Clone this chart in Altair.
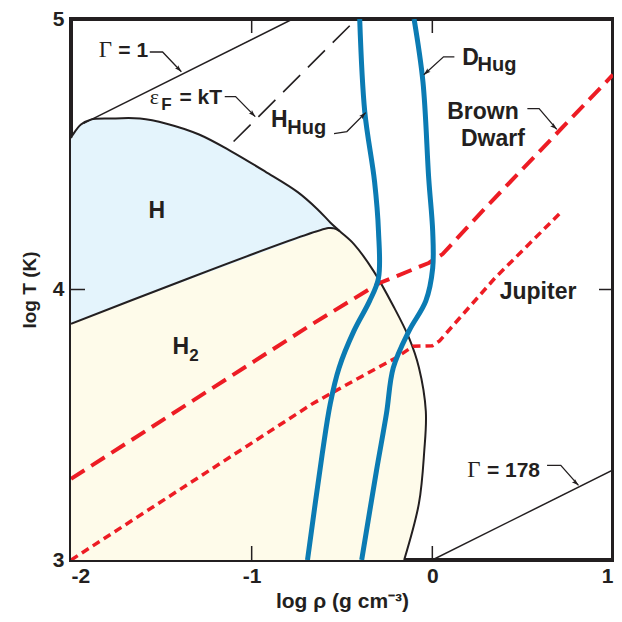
import altair as alt
import pandas as pd

# ---------------- data (log rho, log T) ----------------
# outer boundary of the H / H2 region
outer_x = [-2.0, -1.989, -1.945, -1.891, -1.782, -1.618, -1.471, -1.291, -1.111, -0.925,
           -0.745, -0.636, -0.565, -0.515, -0.434, -0.325, -0.216, -0.129, -0.074, -0.036,
           -0.045, -0.074, -0.156]
outer_y = [4.56, 4.573, 4.610, 4.628, 4.632, 4.632, 4.613, 4.573, 4.510, 4.436,
           4.360, 4.297, 4.248, 4.217, 4.168, 4.068, 3.939, 3.821, 3.711, 3.55,
           3.40, 3.210, 3.0]
JUNCTION = 13  # index where H/H2 line meets outer curve

# H / H2 dividing line
hh2_x = [-2.0, -0.575, -0.545, -0.515]
hh2_y = [3.873, 4.227, 4.226, 4.217]

# Hugoniots
hhug_x = [-0.402, -0.374, -0.320, -0.298, -0.298, -0.347, -0.434, -0.516, -0.565, -0.609, -0.691]
hhug_y = [5.0, 4.657, 4.400, 4.215, 4.042, 3.958, 3.847, 3.711, 3.578, 3.394, 3.0]
dhug_x = [-0.101, -0.052, -0.020, 0.002, 0.002, -0.036, -0.129, -0.216, -0.254, -0.309, -0.391]
dhug_y = [5.0, 4.768, 4.411, 4.215, 4.079, 3.958, 3.847, 3.711, 3.541, 3.331, 3.0]

# planet / brown dwarf adiabats
bd_x = [-2.0, -0.663, -0.292, -0.020, 0.057, 0.291, 1.0]
bd_y = [3.30, 3.873, 4.024, 4.098, 4.131, 4.300, 4.794]
jup_x = [-2.0, -0.663, -0.434, -0.200, -0.107, 0.0, 0.04, 0.128, 0.346, 0.717]
jup_y = [3.0, 3.578, 3.663, 3.748, 3.790, 3.792, 3.81, 3.877, 4.042, 4.289]

# reference lines
g1_x = [-1.93, -0.773]
g1_y = [4.614, 5.0]
g178_x = [0.0, 1.0]
g178_y = [3.0, 3.333]
ef_x = [-1.10, -0.42]
ef_y = [4.547, 5.0]

x_ticks = [-2, -1, 0, 1]
y_ticks = [3, 4, 5]

INK = "#231f20"
RED = "#ed1c24"
BLUE = "#0b7bb3"
FILL_H = "#e4f4fc"
FILL_H2 = "#fefbea"


def frame(xs, ys, **extra):
    d = pd.DataFrame({"x": xs, "y": ys})
    d["i"] = range(len(d))
    for k, v in extra.items():
        d[k] = v
    return d


X = alt.X("x:Q", scale=alt.Scale(domain=[-2, 1], nice=False, zero=False),
          axis=alt.Axis(values=x_ticks, title="log ρ (g cm⁻³)", ticks=False, domain=False, grid=False,
                        labelExpr="replace(format(datum.value, 'd'), '−', '-')",
                        labelFont="Liberation Sans", labelFontWeight="bold", labelFontSize=21,
                        labelColor=INK, labelPadding=5,
                        titleFont="Liberation Sans", titleFontWeight="bold", titleFontSize=21,
                        titleColor=INK, titlePadding=4))
Y = alt.Y("y:Q", scale=alt.Scale(domain=[3, 5], nice=False, zero=False),
          axis=alt.Axis(values=y_ticks, title="log T (K)", ticks=False, domain=False, grid=False,
                        labelExpr="format(datum.value, 'd')",
                        labelFont="Liberation Sans", labelFontWeight="bold", labelFontSize=21,
                        labelColor=INK, labelPadding=7,
                        titleFont="Liberation Sans", titleFontWeight="bold", titleFontSize=19,
                        titleColor=INK, titlePadding=13))
O = alt.Order("i:Q")

# filled regions
h_poly = frame([-2.0] + outer_x[:JUNCTION + 1] + hh2_x[::-1][1:],
               [3.873] + outer_y[:JUNCTION + 1] + hh2_y[::-1][1:])
h2_poly = frame([-2.0] + hh2_x + outer_x[JUNCTION + 1:],
                [3.0] + hh2_y + outer_y[JUNCTION + 1:])

fill_h = alt.Chart(h_poly).mark_line(fill=FILL_H, strokeWidth=0, clip=True).encode(x=X, y=Y, order=O)
fill_h2 = alt.Chart(h2_poly).mark_line(fill=FILL_H2, strokeWidth=0, clip=True).encode(x=X, y=Y, order=O)

outer = alt.Chart(frame(outer_x, outer_y)).mark_line(
    color=INK, strokeWidth=2, interpolate="catmull-rom", clip=True).encode(x=X, y=Y, order=O)
hh2 = alt.Chart(frame(hh2_x, hh2_y)).mark_line(
    color=INK, strokeWidth=2, interpolate="catmull-rom", clip=True).encode(x=X, y=Y, order=O)

g1 = alt.Chart(frame(g1_x, g1_y)).mark_line(color=INK, strokeWidth=1.5, clip=True).encode(x=X, y=Y, order=O)
g178 = alt.Chart(frame(g178_x, g178_y)).mark_line(color=INK, strokeWidth=1.5, clip=True).encode(x=X, y=Y, order=O)
ef = alt.Chart(frame(ef_x, ef_y)).mark_line(color=INK, strokeWidth=1.6, strokeDash=[24, 11],
                                            clip=True).encode(x=X, y=Y, order=O)

bd = alt.Chart(frame(bd_x, bd_y)).mark_line(color=RED, strokeWidth=4, strokeDash=[16, 8],
                                            clip=True).encode(x=X, y=Y, order=O)
jup = alt.Chart(frame(jup_x, jup_y)).mark_line(color=RED, strokeWidth=3.5, strokeDash=[8, 5],
                                               clip=True).encode(x=X, y=Y, order=O)

hhug = alt.Chart(frame(hhug_x, hhug_y)).mark_line(
    color=BLUE, strokeWidth=5, interpolate="catmull-rom", clip=True).encode(x=X, y=Y, order=O)
dhug = alt.Chart(frame(dhug_x, dhug_y)).mark_line(
    color=BLUE, strokeWidth=5, interpolate="catmull-rom", clip=True).encode(x=X, y=Y, order=O)

# inward ticks drawn as short rules
W, H = 542, 541
TL = 14
xt = pd.DataFrame({"x": [-1, 0]})
yt = pd.DataFrame({"y": [4]})
tick_bottom = alt.Chart(xt).mark_rule(color=INK, strokeWidth=1.5).encode(
    x=X, y=alt.value(H), y2=alt.value(H - TL))
tick_top = alt.Chart(xt).mark_rule(color=INK, strokeWidth=1.5).encode(
    x=X, y=alt.value(0), y2=alt.value(TL))
tick_left = alt.Chart(yt).mark_rule(color=INK, strokeWidth=1.5).encode(
    y=Y, x=alt.value(0), x2=alt.value(TL))
tick_right = alt.Chart(yt).mark_rule(color=INK, strokeWidth=1.5).encode(
    y=Y, x=alt.value(W), x2=alt.value(W - TL))

# leaders (label -> curve) with arrow heads
lead_group = ["g1"] * 3 + ["ef"] * 3 + ["hh"] * 3 + ["dh"] * 3 + ["bd"] * 3 + ["g178"] * 3
lead_x = [-1.564, -1.493, -1.389,
          -1.149, -1.089, -0.980,
          -0.544, -0.473, -0.369,
          0.122, 0.062, -0.047,
          0.526, 0.591, 0.689,
          0.635, 0.711, 0.809]
lead_y = [4.878, 4.878, 4.805,
          4.713, 4.713, 4.639,
          4.576, 4.584, 4.654,
          4.860, 4.860, 4.794,
          4.669, 4.669, 4.592,
          3.350, 3.350, 3.276]
leads = pd.DataFrame({"g": lead_group, "x": lead_x, "y": lead_y, "i": list(range(len(lead_x)))})
leader = alt.Chart(leads).mark_line(color=INK, strokeWidth=1.3, clip=True).encode(
    x=X, y=Y, detail="g:N", order=O)

head_angle = [136, 135, 44, 228, 133, 133]
heads = pd.DataFrame({"x": lead_x[2::3], "y": lead_y[2::3], "a": head_angle})
arrow = alt.Chart(heads).mark_point(
    shape="M0,0L0.45,1.4L0,1.1L-0.45,1.4Z", filled=True, color=INK, size=100, opacity=1).encode(
    x=X, y=Y, angle=alt.Angle("a:Q", scale=None))

# text annotations
sans_left = pd.DataFrame({
    "text": ["= 1", "F", "= kT", "H", "Hug", "D", "Hug", "Jupiter", "= 178", "H", "2"],
    "x": [-1.738, -1.500, -1.400, -0.893, -0.803, 0.166, 0.250, 0.373, 0.302, -1.438, -1.345],
    "y": [4.860, 4.665, 4.687, 4.602, 4.576, 4.831, 4.808, 3.965, 3.306, 3.762, 3.737],
    "fs": [21, 17, 21, 23, 20, 23, 20, 23, 21, 23, 17],
})
sans_center = pd.DataFrame({
    "text": ["H", "Brown", "Dwarf"],
    "x": [-1.525, 0.280, 0.335],
    "y": [4.263, 4.632, 4.529],
    "fs": [23, 23, 23],
})
serif_left = pd.DataFrame({
    "text": ["Γ", "ε", "Γ"],
    "x": [-1.847, -1.564, 0.193],
    "y": [4.860, 4.687, 3.306],
    "fs": [23, 22, 23],
})

txt_left = alt.Chart(sans_left).mark_text(
    align="left", baseline="alphabetic", font="Liberation Sans", fontWeight="bold", color=INK).encode(
    x=X, y=Y, text="text:N", size=alt.Size("fs:Q", scale=None))
txt_center = alt.Chart(sans_center).mark_text(
    align="center", baseline="alphabetic", font="Liberation Sans", fontWeight="bold", color=INK).encode(
    x=X, y=Y, text="text:N", size=alt.Size("fs:Q", scale=None))
txt_serif = alt.Chart(serif_left).mark_text(
    align="left", baseline="alphabetic", font="Liberation Serif", color=INK).encode(
    x=X, y=Y, text="text:N", size=alt.Size("fs:Q", scale=None))

chart = alt.layer(
    fill_h, fill_h2, outer, hh2, g1, g178, ef, bd, jup, hhug, dhug,
    tick_bottom, tick_top, tick_left, tick_right, leader, arrow,
    txt_left, txt_center, txt_serif,
).properties(
    width=W, height=H,
    autosize=alt.AutoSizeParams(type="none"),
    padding={"left": 63, "top": 11, "right": 1, "bottom": 54},
    background="white",
).configure_view(stroke=INK, strokeWidth=4)

chart.save("out.html", embed_options={"renderer": "svg", "actions": False})
